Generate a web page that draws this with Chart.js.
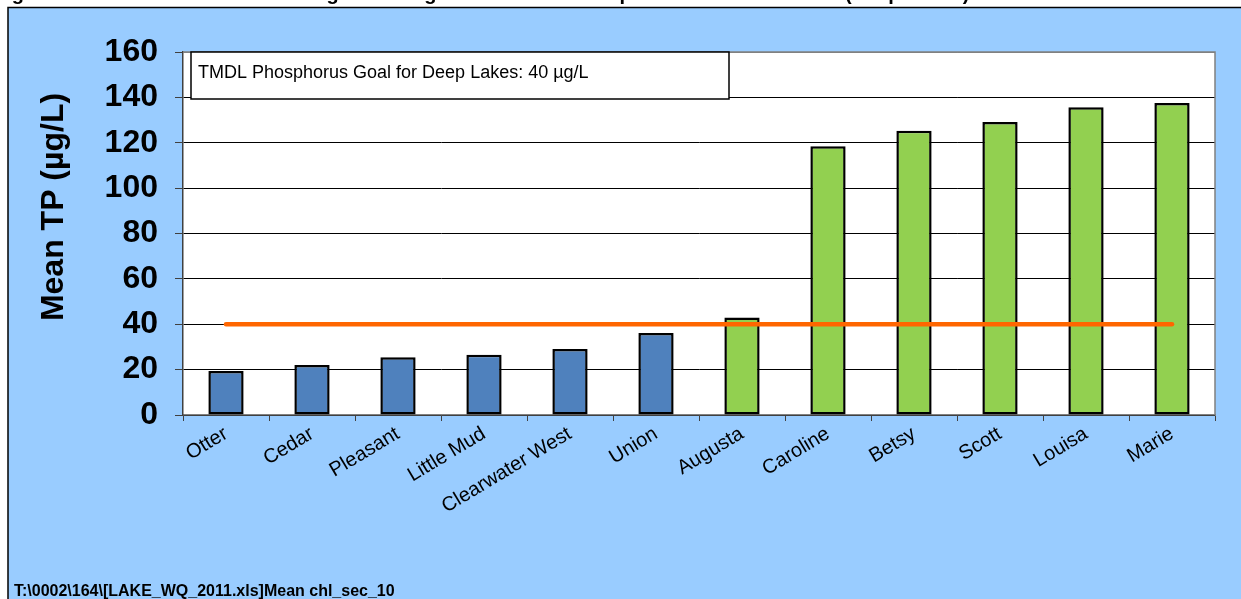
<!DOCTYPE html>
<html>
<head>
<meta charset="utf-8">
<script src="https://cdn.jsdelivr.net/npm/chart.js@4.4.1/dist/chart.umd.min.js"></script>
<style>
  html, body { margin: 0; padding: 0; background: #ffffff; overflow: hidden; }
  canvas { display: block; }
</style>
</head>
<body>
<canvas id="tpChart" width="1241" height="599"></canvas>
<script>
// --- Chart data ---
const lakes = ['Otter', 'Cedar', 'Pleasant', 'Little Mud', 'Clearwater West', 'Union',
               'Augusta', 'Caroline', 'Betsy', 'Scott', 'Louisa', 'Marie'];
const meanTP = [19.4, 22.0, 25.4, 26.6, 29.1, 36.1, 43.0, 118.5, 125.3, 129.1, 135.6, 137.5];
const tpGoal = 40; // ug/L, deep lake standard
const goalLine = lakes.map(() => tpGoal);
const yMin = 0;
const yMax = 160;
const yStep = 20;

const pageTitle = 'Figure 3. 2002-2011 Ten-Year Average Growing Season Total Phosphorus Concentrations (Deep Lakes)';
const goalText = 'TMDL Phosphorus Goal for Deep Lakes: 40 \u00B5g/L';
const yTitle = 'Mean TP (\u00B5g/L)';
const sourceText = 'T:\\0002\\164\\[LAKE_WQ_2011.xls]Mean chl_sec_10';

const FONT = 'Arial, "Liberation Sans", sans-serif';
const BLUE_BG = '#99CCFF';

// bars above the goal are green, the rest blue
const barColors = meanTP.map(v => v > tpGoal ? '#92D050' : '#4F81BD');

// --- Frame, plot background and text drawn around the chart ---
const framePlugin = {
    id: 'frame',
    beforeDraw(chart) {
        const ctx = chart.ctx;
        const a = chart.chartArea;
        ctx.save();
        ctx.fillStyle = '#ffffff';
        ctx.fillRect(0, 0, chart.width, chart.height);

        // page title, only its lower edge fits on the page
        ctx.fillStyle = '#000000';
        ctx.font = 'bold 20px ' + FONT;
        ctx.textBaseline = 'alphabetic';
        ctx.textAlign = 'left';
        ctx.fillText(pageTitle, -6, 0);

        ctx.fillStyle = BLUE_BG;
        ctx.fillRect(8, 8, chart.width - 8, chart.height - 8);
        ctx.strokeStyle = '#000000';
        ctx.lineWidth = 1.5;
        ctx.beginPath();
        ctx.moveTo(8, chart.height);
        ctx.lineTo(8, 7.5);
        ctx.lineTo(chart.width, 7.5);
        ctx.stroke();
        // white plot area
        ctx.fillStyle = '#ffffff';
        ctx.fillRect(a.left, a.top, a.right - a.left, a.bottom - a.top);
        ctx.restore();
    },
    afterDraw(chart) {
        const ctx = chart.ctx;
        const a = chart.chartArea;
        ctx.save();
        // grey border on top and right of the plot
        ctx.strokeStyle = '#808080';
        ctx.lineWidth = 1.5;
        ctx.beginPath();
        ctx.moveTo(a.left, a.top);
        ctx.lineTo(a.right, a.top);
        ctx.lineTo(a.right, a.bottom);
        ctx.stroke();

        // goal text box
        const bx = a.left + 8, by = a.top, bw = 538, bh = 47;
        ctx.fillStyle = '#ffffff';
        ctx.fillRect(bx, by, bw, bh);
        ctx.strokeStyle = '#000000';
        ctx.lineWidth = 1.5;
        ctx.strokeRect(bx, by, bw, bh);
        ctx.fillStyle = '#000000';
        ctx.font = '18px ' + FONT;
        ctx.textAlign = 'left';
        ctx.textBaseline = 'alphabetic';
        ctx.fillText(goalText, bx + 7, by + 26);

        // y axis title
        ctx.font = 'bold 32px ' + FONT;
        ctx.translate(54, 207);
        ctx.rotate(-Math.PI / 2);
        ctx.textAlign = 'center';
        ctx.textBaseline = 'middle';
        ctx.fillText(yTitle, 0, 0);
        ctx.restore();

        // source path in the corner
        ctx.save();
        ctx.fillStyle = '#000000';
        ctx.font = 'bold 16px ' + FONT;
        ctx.textAlign = 'left';
        ctx.textBaseline = 'alphabetic';
        ctx.fillText(sourceText, 14, 596);
        ctx.restore();
    }
};

const ctx = document.getElementById('tpChart').getContext('2d');
const tpChart = new Chart(ctx, {
    type: 'bar',
    data: {
        labels: lakes,
        datasets: [
            {
                type: 'line',
                label: 'TMDL Goal',
                data: goalLine,
                borderColor: '#FF6600',
                borderWidth: 4.5,
                borderCapStyle: 'round',
                pointRadius: 0,
                fill: false,
                order: 0
            },
            {
                type: 'bar',
                label: 'Mean TP',
                data: meanTP,
                backgroundColor: barColors,
                borderColor: '#000000',
                borderWidth: 2.5,
                borderSkipped: false,
                categoryPercentage: 0.41,
                barPercentage: 1.0,
                order: 1
            }
        ]
    },
    options: {
        responsive: false,
        devicePixelRatio: 1,
        animation: false,
        layout: { padding: { top: 52, right: 26, bottom: 0, left: 0 } },
        plugins: {
            legend: { display: false },
            tooltip: { enabled: false }
        },
        scales: {
            x: {
                afterFit: function(scale) { scale.height = 184; },
                grid: {
                    offset: true,
                    drawOnChartArea: false,
                    drawTicks: true,
                    tickLength: 6,
                    color: '#404040'
                },
                border: { display: true, color: '#808080', width: 1.5 },
                ticks: {
                    color: '#000000',
                    font: { family: FONT, size: 20 },
                    minRotation: 31,
                    maxRotation: 31,
                    autoSkip: false,
                    padding: 1
                }
            },
            y: {
                min: yMin,
                max: yMax,
                afterFit: function(scale) { scale.width = 183; },
                grid: {
                    color: function(c) { return c.tick && c.tick.value === yMax ? '#808080' : '#000000'; },
                    lineWidth: 1,
                    tickLength: 8,
                    tickColor: '#404040'
                },
                border: { display: true, color: '#404040', width: 1.5 },
                ticks: {
                    stepSize: yStep,
                    color: '#000000',
                    padding: 17,
                    font: { family: FONT, size: 32, weight: 'bold' }
                }
            }
        }
    },
    plugins: [framePlugin]
});
</script>
</body>
</html>
